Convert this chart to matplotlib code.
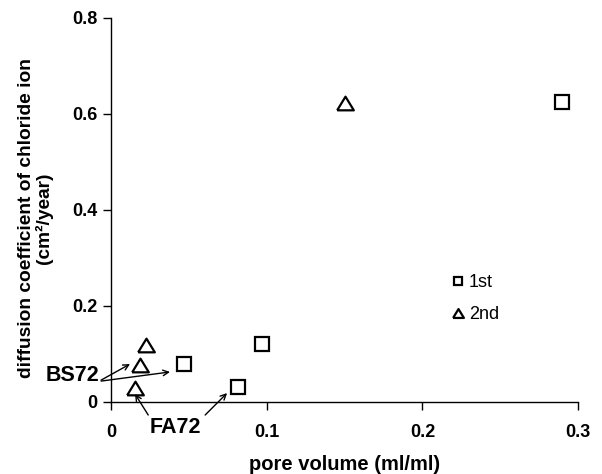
import numpy as np
import matplotlib
matplotlib.use("Agg")
import matplotlib.pyplot as plt

plt.rcParams['font.family'] = ['Liberation Sans', 'DejaVu Sans']

# 1st measurement (squares)
x_1st = [0.0467, 0.0816, 0.097, 0.2895]
y_1st = [0.0785, 0.031, 0.120, 0.624]

# 2nd measurement (triangles)
x_2nd = [0.0154, 0.0184, 0.0223, 0.150]
y_2nd = [0.0285, 0.0775, 0.118, 0.623]

xticks = [0, 0.1, 0.2, 0.3]
xtick_labels = ["0", "0.1", "0.2", "0.3"]
yticks = [0, 0.2, 0.4, 0.6, 0.8]
ytick_labels = ["0", "0.2", "0.4", "0.6", "0.8"]

fig = plt.figure(figsize=(6.02, 4.74), dpi=100)
ax = fig.add_axes([0.185, 0.1525, 0.775, 0.81])

tri = [(-1, -0.82), (1, -0.82), (0, 0.82), (-1, -0.82)]

ax.plot(x_1st, y_1st, linestyle='none', marker='s', markersize=9.5,
        markerfacecolor='white', markeredgecolor='black', markeredgewidth=1.6,
        label='1st')
ax.plot(x_2nd, y_2nd, linestyle='none', marker=tri, markersize=12,
        markerfacecolor='white', markeredgecolor='black', markeredgewidth=1.6,
        label='2nd')

ax.set_xlim(0, 0.3)
ax.set_ylim(0, 0.8)
ax.set_xticks(xticks)
ax.set_xticklabels(xtick_labels)
ax.set_yticks(yticks)
ax.set_yticklabels(ytick_labels)
ax.tick_params(direction='out', length=6, width=1, labelsize=13)
ax.tick_params(axis='x', pad=10)
ax.tick_params(axis='y', pad=4)
for lab in ax.get_xticklabels() + ax.get_yticklabels():
    lab.set_fontweight('bold')

ax.spines['top'].set_visible(False)
ax.spines['right'].set_visible(False)
ax.spines['left'].set_linewidth(1)
ax.spines['bottom'].set_linewidth(1)

ax.set_xlabel("pore volume (ml/ml)", fontsize=14.5, fontweight='bold', labelpad=10)
ax.set_ylabel("diffusion coefficient of chloride ion\n(cm\u00b2/year)",
              fontsize=13.8, fontweight='bold', linespacing=1.0)
ax.yaxis.set_label_coords(-0.125, 0.478)

leg = ax.legend(loc='upper left', bbox_to_anchor=(0.71, 0.355), frameon=False,
                fontsize=13, markerscale=0.65, handlelength=0.7,
                handletextpad=0.25, labelspacing=0.8, borderpad=0)

# annotations
arrow = dict(arrowstyle='->', color='black', lw=1, shrinkA=0, shrinkB=0)
ax.annotate("", xy=(0.012, 0.0785), xytext=(-0.0066, 0.045),
            arrowprops=arrow, annotation_clip=False)
ax.annotate("", xy=(0.0377, 0.062), xytext=(-0.0066, 0.043),
            arrowprops=arrow, annotation_clip=False)
ax.text(-0.0253, 0.0546, "BS72", fontsize=15.5, fontweight='bold',
        ha='center', va='center', clip_on=False)

ax.annotate("", xy=(0.0152, 0.016), xytext=(0.0237, -0.0277),
            arrowprops=arrow, annotation_clip=False)
ax.annotate("", xy=(0.0744, 0.018), xytext=(0.0603, -0.0277),
            arrowprops=arrow, annotation_clip=False)
ax.text(0.041, -0.0527, "FA72", fontsize=15.5, fontweight='bold',
        ha='center', va='center', clip_on=False)

fig.savefig("out.png", dpi=100)
